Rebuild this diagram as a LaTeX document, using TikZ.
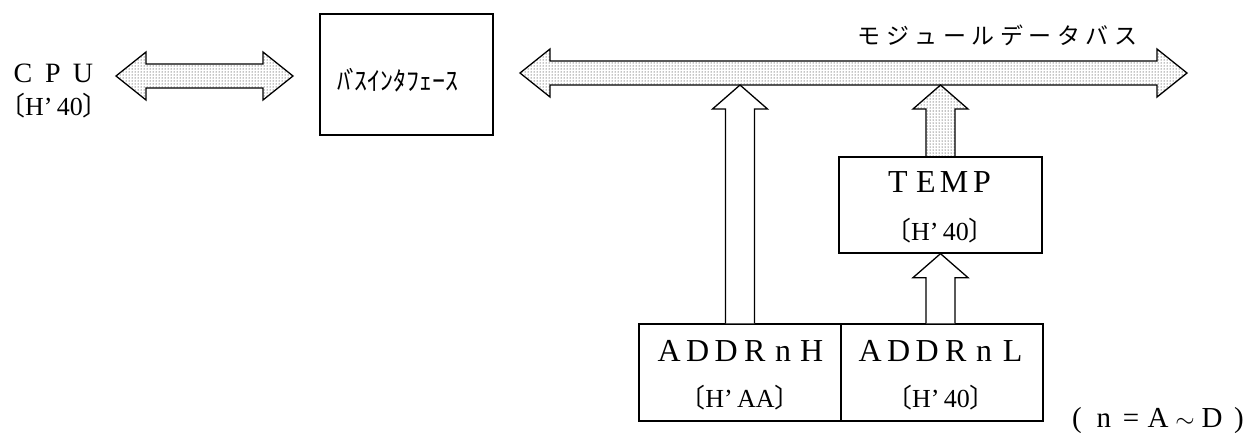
\documentclass[tikz,border=0pt]{standalone}
\usepackage{fontspec}
\setmainfont{Liberation Serif}
\newfontfamily\cjk{Noto Sans CJK JP}
\usetikzlibrary{patterns,calc}
\makeatletter
\newcommand\spreadtext[2]{\@tfor\sp@c:=#2\do{\makebox[#1]{\sp@c}}}
\makeatother
\newcommand\regval[1]{{\fontsize{26}{26}\selectfont\makebox[14pt][r]{\cjk 〔}H’\,#1\makebox[14pt][l]{\cjk 〕}}}
\newcommand\fatup[3]{\draw[#1] let \p1=(#2), \p2=(#3) in
  (\x1-14.5pt,\y1) -- (\x1-14.5pt,\y2-24pt) -- (\x1-27.5pt,\y2-24pt) -- (\x1,\y2)
  -- (\x1+27.5pt,\y2-24pt) -- (\x1+14.5pt,\y2-24pt) -- (\x1+14.5pt,\y1);}
\newcommand\fatlr[3]{\draw[#1] let \p1=(#2), \p2=(#3) in
  (\x1,\y1) -- (\x1+30pt,\y1+24pt) -- (\x1+30pt,\y1+12pt) -- (\x2-30pt,\y1+12pt)
  -- (\x2-30pt,\y1+24pt) -- (\x2,\y1) -- (\x2-30pt,\y1-24pt) -- (\x2-30pt,\y1-12pt)
  -- (\x1+30pt,\y1-12pt) -- (\x1+30pt,\y1-24pt) -- cycle;}
\begin{document}
\begin{tikzpicture}[x=1pt,y=-1pt,line width=1.3pt,
  box/.style={draw,inner sep=0pt},
  dotfill/.style={draw,pattern=dots,pattern color=black,line join=miter},
  hollow/.style={draw,fill=white,line join=miter}]
\useasboundingbox (0,0) rectangle (1255,432);
% texts at left
\node (cpu) at (53,73) {\fontsize{28}{28}\selectfont\spreadtext{30pt}{CPU}};
\node (cpuval) at (54,106) {\regval{40}};
% bus interface
\node[box,minimum width=173pt,minimum height=121pt] (bif) at (406.5,74.5) {};
\node (biftext) at (397.5,80) {\cjk\fontsize{26}{26}\selectfont ﾊ\kern-4ptﾞ\kern-5ptｽｲﾝﾀﾌｪｰｽ};
% module data bus label
\node (buslabel) at (997.5,35) {\cjk\fontsize{23}{23}\selectfont\spreadtext{28.5pt}{モジュールデータバス}};
% TEMP
\node[box,minimum width=203pt,minimum height=96pt] (temp) at (940.5,205) {};
\node (temptxt) at (940,182) {\fontsize{32}{32}\selectfont\spreadtext{28pt}{TEMP}};
\node (tempval) at (940,231) {\regval{40}};
% ADDR registers
\node[box,minimum width=202pt,minimum height=97pt] (addrh) at (740,372.5) {};
\node[box,minimum width=202pt,minimum height=97pt] (addrl) at (942,372.5) {};
\node (addrhtxt) at (740.5,351) {\fontsize{32}{32}\selectfont\spreadtext{28.5pt}{ADDRnH}};
\node (addrltxt) at (941.5,351) {\fontsize{32}{32}\selectfont\spreadtext{28.5pt}{ADDRnL}};
\node (addrhval) at (740,398) {\regval{AA}};
\node (addrlval) at (941,398) {\regval{40}};
% note
\node (note) at (1158,421) {\fontsize{29}{29}\selectfont\makebox[27pt]{(}\makebox[27pt]{n}\makebox[27pt]{=}\makebox[27pt]{A}\makebox[27pt]{$\sim$}\makebox[27pt]{D}\makebox[27pt]{)}};
% fat arrows
\coordinate (cpuL) at (116,76);
\coordinate (cpuR) at (293,76);
\coordinate (busL) at (520,73);
\coordinate (busR) at (1187,73);
\coordinate (busbot) at (0,85);
\fatlr{dotfill}{cpuL}{cpuR}
\fatlr{dotfill}{busL}{busR}
\fatup{hollow}{addrh.north}{addrh.north |- busbot}
\fatup{dotfill}{temp.north}{temp.north |- busbot}
\fatup{hollow}{temp.south |- addrl.north}{temp.south}
\end{tikzpicture}
\end{document}
